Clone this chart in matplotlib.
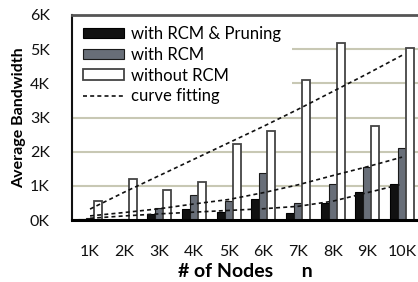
import matplotlib
matplotlib.use("Agg")
import matplotlib.pyplot as plt
from matplotlib.patches import Rectangle
import numpy as np

plt.rcParams['font.family'] = ['Lato', 'DejaVu Sans']

categories = ["1K", "2K", "3K", "4K", "5K", "6K", "7K", "8K", "9K", "10K"]
rcm_pruning = [0.03, 0.01, 0.19, 0.32, 0.24, 0.61, 0.20, 0.50, 0.82, 1.05]
with_rcm = [0.07, 0.02, 0.35, 0.73, 0.57, 1.37, 0.49, 1.05, 1.54, 2.10]
without_rcm = [0.55, 1.19, 0.88, 1.12, 2.22, 2.60, 4.09, 5.18, 2.75, 5.04]
fit_without = [0.32, 0.82, 1.30, 1.78, 2.26, 2.74, 3.24, 3.76, 4.28, 4.82]
fit_with = [0.12, 0.22, 0.33, 0.47, 0.60, 0.80, 1.03, 1.30, 1.56, 1.84]
fit_pruning = [0.05, 0.12, 0.18, 0.23, 0.28, 0.33, 0.40, 0.55, 0.80, 1.05]
yticks = [0, 1, 2, 3, 4, 5, 6]
ytick_labels = ["0K", "1K", "2K", "3K", "4K", "5K", "6K"]

W, H = 418, 282
AW, AH = 418 - 72, 220 - 15
fig = plt.figure(figsize=(W / 100, H / 100), dpi=100)
ax = fig.add_axes([72 / W, 1 - 220 / H, AW / W, AH / H])

x = np.arange(len(categories))
bw = 0.23
b1 = ax.bar(x - bw, rcm_pruning, bw, color="#111111", edgecolor="#000000", linewidth=0.8,
            label="with RCM & Pruning", zorder=3)
b2 = ax.bar(x, with_rcm, bw, color="#686e78", edgecolor="#1a1a1a", linewidth=0.8,
            label="with RCM", zorder=3)
b3 = ax.bar(x + bw, without_rcm, bw, color="#ffffff", edgecolor="#444444", linewidth=1.3,
            label="without RCM", zorder=3)

dash = dict(color="#111111", linewidth=1.2, linestyle=(0, (2.4, 1.9)), zorder=4)
l1, = ax.plot(x, fit_without, label="curve fitting", **dash)
ax.plot(x, fit_with, **dash)
ax.plot(x, fit_pruning, **dash)

ax.set_xlim(-0.52, 9.46)
ax.set_ylim(0, 6)
ax.set_yticks(yticks)
ax.set_yticklabels(ytick_labels)
ax.set_xticks(x)
ax.set_xticklabels(categories)
ax.tick_params(axis="both", length=0, labelsize=11.5, colors="#111111")
ax.tick_params(axis="x", pad=18)
ax.tick_params(axis="y", pad=16)

ax.yaxis.grid(True, color="#c8c8b4", linewidth=1.5, zorder=0)
ax.set_axisbelow(True)

# white legend background hiding the gridlines behind the legend
ax.add_patch(Rectangle((0, (220 - 106) / AH), (292 - 72) / AW, 106 / AH,
                       transform=ax.transAxes, facecolor="white", edgecolor="none",
                       zorder=1))

ax.spines["right"].set_visible(False)
ax.spines["top"].set_color("#555555")
ax.spines["top"].set_linewidth(2)
ax.spines["left"].set_color("#111111")
ax.spines["left"].set_linewidth(1.5)
ax.spines["bottom"].set_color("#000000")
ax.spines["bottom"].set_linewidth(2.2)
for s in ax.spines.values():
    s.set_zorder(6)

ax.set_ylabel("Average Bandwidth", fontsize=11.5, fontweight="bold", labelpad=3)
ax.set_xlabel("# of Nodes      n", fontsize=14, fontweight="bold", labelpad=3)

leg = ax.legend([b1, b2, b3, l1],
                ["with RCM & Pruning", "with RCM", "without RCM", "curve fitting"],
                loc="upper left", bbox_to_anchor=(5 / AW, 1 - 5 / AH), borderaxespad=0,
                frameon=False, fontsize=12, handlelength=2.45, handleheight=0.6,
                handletextpad=0.45, labelspacing=0.29, borderpad=0.36)
leg.set_zorder(5)

fig.savefig("out.png", dpi=100)
